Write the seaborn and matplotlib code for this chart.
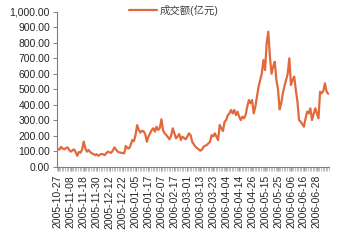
import numpy as np
import pandas as pd
import matplotlib
matplotlib.use("Agg")
import matplotlib.pyplot as plt
import seaborn as sns
from matplotlib.ticker import FuncFormatter, FixedLocator

# ---- data ----
series_name = "成交额(亿元)"
turnover = [
    115, 110, 128, 118, 112, 120, 125, 108, 97, 105,
    112, 95, 70, 95, 90, 110, 162, 118, 97, 108,
    95, 86, 82, 75, 80, 70, 78, 82, 80, 75,
    88, 97, 92, 90, 105, 125, 110, 97, 92, 90,
    88, 86, 134, 120, 118, 140, 172, 165, 204, 268,
    237, 220, 232, 228, 211, 161, 194, 215, 237, 248,
    226, 258, 237, 250, 306, 235, 215, 204, 190, 177,
    200, 248, 215, 183, 195, 211, 172, 194, 185, 177,
    195, 215, 204, 161, 145, 129, 120, 112, 103, 110,
    129, 135, 140, 151, 161, 204, 195, 215, 194, 172,
    269, 248, 230, 290, 301, 333, 344, 366, 344, 366,
    333, 355, 323, 301, 323, 312, 333, 387, 430, 409,
    430, 344, 387, 452, 516, 560, 602, 688, 624, 796,
    871, 710, 600, 645, 677, 560, 500, 370, 409, 473,
    520, 559, 600, 700, 527, 560, 581, 495, 420, 301,
    290, 275, 258, 310, 355, 344, 377, 301, 340, 377,
    344, 312, 484, 473, 490, 538, 484, 470,
]
tick_labels = [
    "2005-10-27", "2005-11-08", "2005-11-18", "2005-11-30", "2005-12-12",
    "2005-12-22", "2006-01-05", "2006-01-17", "2006-02-07", "2006-02-17",
    "2006-03-01", "2006-03-13", "2006-03-23", "2006-04-04", "2006-04-14",
    "2006-04-26", "2006-05-15", "2006-05-25", "2006-06-06", "2006-06-16",
    "2006-06-28",
]
label_step = 8

df = pd.DataFrame({"idx": np.arange(len(turnover)), "val": turnover})

sns.set_theme(style="white")
plt.rcParams["font.family"] = ["Liberation Sans", "Noto Sans CJK SC", "DejaVu Sans"]

fig = plt.figure(figsize=(3.5, 2.4), dpi=100)
ax = fig.add_axes([57 / 350, 1 - 166.7 / 240, 272 / 350, (166.7 - 11.7) / 240])

sns.lineplot(data=df, x="idx", y="val", ax=ax, color="#E2693B", linewidth=1.6,
             label=series_name)

ax.set_xlim(-0.5, len(turnover) - 0.5)
ax.set_ylim(0, 1000)
ax.set_yticks(np.arange(0, 1001, 100))
ax.yaxis.set_major_formatter(FuncFormatter(lambda v, p: f"{v:,.2f}"))

ax.set_xticks(np.arange(0, len(tick_labels) * label_step, label_step))
ax.set_xticklabels(tick_labels, rotation=90)
ax.xaxis.set_minor_locator(FixedLocator(np.arange(-0.5, len(turnover), 1)))

ax.set_xlabel("")
ax.set_ylabel("")
for s in ["top", "right"]:
    ax.spines[s].set_visible(False)
for s in ["left", "bottom"]:
    ax.spines[s].set_color("#7F7F7F")
    ax.spines[s].set_linewidth(0.8)

ax.tick_params(axis="y", which="major", direction="out", length=3, width=0.7,
               color="#7F7F7F", labelsize=7.5, pad=2, labelcolor="#262626", left=True)
ax.tick_params(axis="x", which="major", direction="out", length=3, width=0.5,
               color="#7F7F7F", labelsize=7.5, pad=3, labelcolor="#262626", bottom=True)
ax.tick_params(axis="x", which="minor", direction="out", length=3, width=0.4,
               color="#8F8F8F", bottom=True)

leg = ax.legend(loc="upper center", bbox_to_anchor=(0.43, 1.07), frameon=False,
                fontsize=7.5, handlelength=2.6, handletextpad=0.3, borderaxespad=0)
for t in leg.get_texts():
    t.set_color("#404040")

fig.savefig("out.png", dpi=100)
